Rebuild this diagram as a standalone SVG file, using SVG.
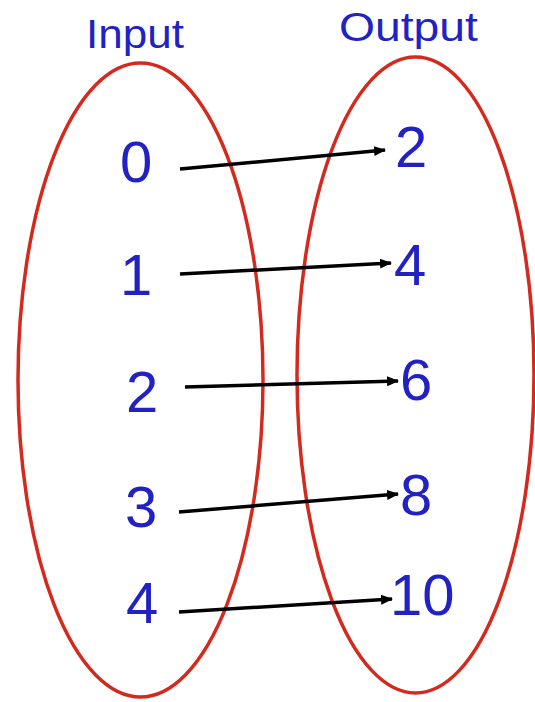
<svg xmlns="http://www.w3.org/2000/svg" width="535" height="702" viewBox="0 0 535 702">
<style>
.set{fill:none;stroke:#d42a1e;stroke-width:3.5}
.lbl{font-family:"Liberation Sans",Arial,sans-serif;fill:#2222c4}
.num{font-family:"Liberation Sans",Arial,sans-serif;fill:#2222c4;font-size:58px}
.arr{stroke:#000;stroke-width:3.5;fill:none;marker-end:url(#ah)}
</style>
<defs>
<marker id="ah" viewBox="0 0 12 10" refX="11" refY="5" markerWidth="12" markerHeight="10" markerUnits="userSpaceOnUse" orient="auto">
<path d="M0,0 L12,5 L0,10 z" fill="#000"/>
</marker>
</defs>
<rect width="535" height="702" fill="#fff"/>
<g id="input-set">
<ellipse class="set" cx="140.5" cy="380" rx="122.5" ry="317"/>
<text class="lbl" x="86" y="48" font-size="41" textLength="98" lengthAdjust="spacingAndGlyphs">Input</text>
</g>
<g id="output-set">
<ellipse class="set" cx="415.5" cy="375" rx="118.5" ry="318"/>
<text class="lbl" x="339" y="41" font-size="41" textLength="139" lengthAdjust="spacingAndGlyphs">Output</text>
</g>
<g id="in-0"><text class="num" x="120" y="182">0</text></g>
<g id="in-1"><text class="num" x="120" y="295">1</text></g>
<g id="in-2"><text class="num" x="126" y="412">2</text></g>
<g id="in-3"><text class="num" x="125" y="527">3</text></g>
<g id="in-4"><text class="num" x="126" y="623">4</text></g>
<g id="out-2"><text class="num" x="395" y="167">2</text></g>
<g id="out-4"><text class="num" x="394" y="285">4</text></g>
<g id="out-6"><text class="num" x="400" y="400">6</text></g>
<g id="out-8"><text class="num" x="400" y="515">8</text></g>
<g id="out-10"><text class="num" x="390" y="615">10</text></g>
<g id="connectors">
<line class="arr" x1="180" y1="169" x2="385" y2="150"/>
<line class="arr" x1="180" y1="274" x2="391" y2="263"/>
<line class="arr" x1="185" y1="387" x2="398" y2="381"/>
<line class="arr" x1="179" y1="512" x2="398" y2="494"/>
<line class="arr" x1="179" y1="612" x2="392" y2="599"/>
</g>
</svg>
